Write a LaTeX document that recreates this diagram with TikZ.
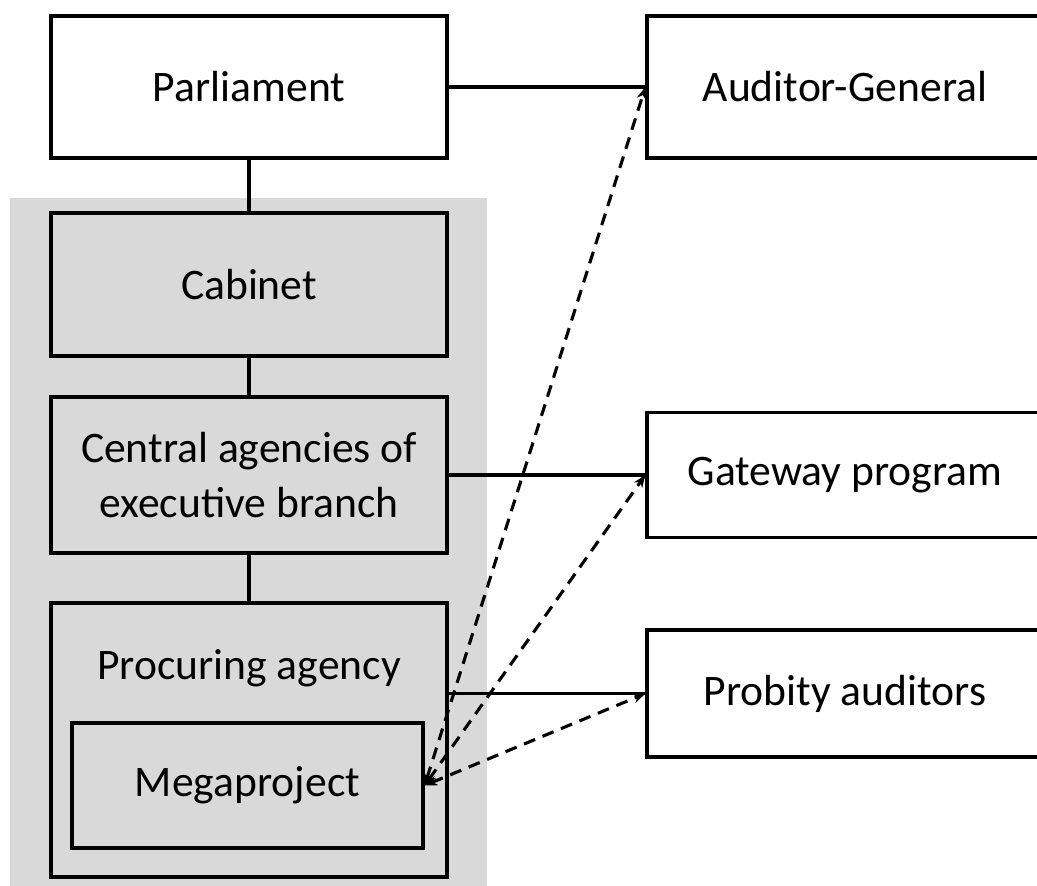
\documentclass[tikz,border=0pt]{standalone}
\usepackage{fontspec}
\setmainfont{Carlito}
\usepackage{tikz}
\usetikzlibrary{arrows.meta,positioning}

\begin{document}
\begin{tikzpicture}
\tikzstyle{orgbox}=[rectangle,draw,line width=2.3pt,minimum width=9.9cm,align=center,inner sep=0pt,font=\fontsize{31}{39}\selectfont]
\tikzstyle{link}=[line width=2.3pt]
\tikzstyle{oversight}=[line width=2.2pt,dash pattern=on 0.3cm off 0.2cm,{Stealth[length=9pt,width=7pt]}-{Stealth[length=9pt,width=7pt]}]
\clip (0,0) rectangle (25.925,22.15);
\fill[white] (0,0) rectangle (25.925,22.15);
% executive branch
\fill[fill={rgb,255:red,217;green,217;blue,217}] (0.25,-1) rectangle (12.175,17.2);
\tikzstyle{every node}=[orgbox]
\node[fill=white,minimum height=3.55cm] (parl) at (6.225,19.975) {Parliament};
\node[fill=white,minimum height=3.55cm] (audit) at (21.125,19.975) {Auditor-General};
\node[minimum height=3.575cm] (cab) at (6.225,15.0375) {Cabinet};
\node[minimum height=3.9cm] (cent) at (6.225,10.275) {Central agencies of\\executive branch};
\node[minimum height=6.85cm] (proc) at (6.225,3.65) {};
\node[draw=none] (proclbl) at (6.225,5.45) {Procuring agency};
\node[minimum width=8.775cm,minimum height=3.125cm] (mega) at (6.1875,2.5125) {Megaproject};
\node[fill=white,minimum height=3.125cm] (gate) at (21.125,10.275) {Gateway program};
\node[fill=white,minimum height=3.175cm] (prob) at (21.125,4.8125) {Probity auditors};
% solid links
\draw[link] (parl.east) -- (audit.west);
\draw[link] (parl.south) -- (cab.north);
\draw[link] (cab.south) -- (cent.north);
\draw[link] (cent.south) -- (proc.north);
\draw[link] (cent.east) -- (gate.west);
\draw[link] (prob.west -| proc.east) -- (prob.west);
% dashed links
\draw[oversight] (mega.east) -- (audit.west);
\draw[oversight] (mega.east) -- (gate.west);
\draw[oversight] (mega.east) -- (prob.west);
\end{tikzpicture}
\end{document}
